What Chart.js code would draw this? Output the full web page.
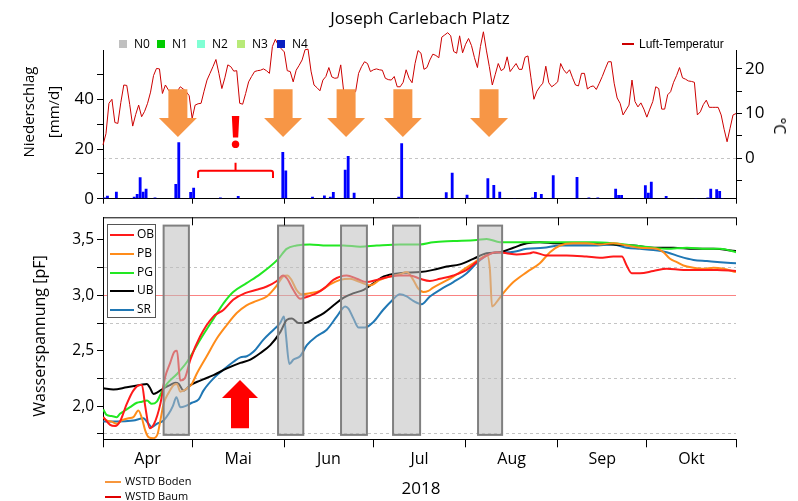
<!DOCTYPE html>
<html><head><meta charset="utf-8">
<script src="https://cdn.jsdelivr.net/npm/chart.js@4.4.0/dist/chart.umd.min.js"></script>
<style>
html,body{margin:0;padding:0;background:#fff;}
#wrap{position:relative;width:798px;height:501px;overflow:hidden;font-family:'Open Sans',sans-serif;color:#000;}
canvas{position:absolute;left:0;top:0;}
.t{position:absolute;white-space:nowrap;line-height:1;}
.c{transform:translate(-50%,-50%);}
.sq{position:absolute;width:8px;height:8px;}
.ln{position:absolute;height:2px;}
#lbox{position:absolute;left:107px;top:224px;width:47px;height:92px;border:1px solid #555;background:#fff;}
</style></head><body>
<div id="wrap">
<canvas id="c1" width="798" height="501"></canvas>
<canvas id="c2" width="798" height="501"></canvas>

<div class="t c" style="left:420px;top:17px;font-size:17px;">Joseph Carlebach Platz</div>

<div class="sq" style="left:119px;top:40px;background:#c0c0c0"></div><div class="t" style="left:134px;top:38px;font-size:12px;">N0</div>
<div class="sq" style="left:157px;top:40px;background:#00cc00"></div><div class="t" style="left:172px;top:38px;font-size:12px;">N1</div>
<div class="sq" style="left:197px;top:40px;background:#80ffd4"></div><div class="t" style="left:212px;top:38px;font-size:12px;">N2</div>
<div class="sq" style="left:237px;top:40px;background:#b8ea78"></div><div class="t" style="left:252px;top:38px;font-size:12px;">N3</div>
<div class="sq" style="left:277px;top:40px;background:#0a1ec0"></div><div class="t" style="left:292px;top:38px;font-size:12px;">N4</div>

<div class="ln" style="left:622px;top:43px;width:12px;background:#cc0000"></div>
<div class="t" style="left:639px;top:38px;font-size:12px;font-family:'Liberation Sans',Arial,sans-serif;">Luft-Temperatur</div>

<div class="t c" style="left:28px;top:112px;font-size:15px;transform:translate(-50%,-50%) rotate(-90deg);">Niederschlag</div>
<div class="t c" style="left:53px;top:112px;font-size:15px;transform:translate(-50%,-50%) rotate(-90deg);">[mm/d]</div>
<div class="t c" style="left:780px;top:126px;font-size:16px;transform:translate(-50%,-50%) rotate(90deg);">°C</div>
<div class="t c" style="left:39px;top:336px;font-size:16px;transform:translate(-50%,-50%) rotate(-90deg);">Wasserspannung [pF]</div>
<div class="t c" style="left:421px;top:487px;font-size:17px;">2018</div>

<div id="lbox">
 <div class="ln" style="left:2px;top:9px;width:24px;background:#ff1a1a"></div><div class="t" style="left:29px;top:3px;font-size:12px;">OB</div>
 <div class="ln" style="left:2px;top:28px;width:24px;background:#ff8c1a"></div><div class="t" style="left:29px;top:22px;font-size:12px;">PB</div>
 <div class="ln" style="left:2px;top:47px;width:24px;background:#22e822"></div><div class="t" style="left:29px;top:41px;font-size:12px;">PG</div>
 <div class="ln" style="left:2px;top:65px;width:24px;background:#000"></div><div class="t" style="left:29px;top:59px;font-size:12px;">UB</div>
 <div class="ln" style="left:2px;top:84px;width:24px;background:#1f77b4"></div><div class="t" style="left:29px;top:78px;font-size:12px;">SR</div>
</div>

<div class="ln" style="left:105px;top:481px;width:16px;background:#f7963c"></div><div class="t" style="left:125px;top:475px;font-size:11px;">WSTD Boden</div>
<div class="ln" style="left:105px;top:496px;width:16px;background:#e00000"></div><div class="t" style="left:125px;top:490px;font-size:11px;">WSTD Baum</div>
</div>
<script>
// ---------- DATA ----------
// x values are days since 1 April 2018
const monthStarts = [0, 30, 61, 91, 122, 153, 183, 213];
const monthNames = ['Apr', 'Mai', 'Jun', 'Jul', 'Aug', 'Sep', 'Okt'];

// daily precipitation (N4), mm/d
const rainDays = [0,1,4,10,11,12,13,14,17,23,24,25,29,30,39,45,60,61,62,70,74,76,77,81,82,84,99,100,115,117,122,129,131,133,138,144,145,147,151,159,163,166,172,173,174,182,183,184,189,199,203,204,206,207,208];
const rainMM   = [0.5,1.2,2.8,0.8,1.9,8.6,2.8,4.0,0.5,0.3,5.9,22.7,2.7,4.4,0.5,1.1,18.8,11.4,0.3,0.8,1.3,0.8,2.7,11.7,17.2,2.4,0.8,22.3,2.6,10.5,1.6,8.2,5.5,2.8,0.3,0.5,2.7,1.9,9.4,8.7,0.5,0.5,4.0,1.5,1.5,5.4,2.4,6.8,1.1,0.3,0.5,4.0,3.8,3.1,0.3];

// daily air temperature, °C (day 0 .. 213)
const airTemp = [
 3.0,5.5,12.3,13.2,8.0,7.8,12.5,16.4,16.3,12.0,
 7.2,9.8,11.9,9.3,10.5,12.3,14.8,18.5,20.1,20.0,
 14.5,16.4,15.3,14.5,14.0,15.0,16.0,15.5,14.9,14.0,
 8.9,11.9,12.2,12.3,15.0,17.5,19.0,20.5,22.1,19.0,
 15.6,18.0,20.9,20.5,19.5,19.6,12.3,12.1,14.5,17.1,
 18.3,19.4,19.6,19.7,20.0,19.6,19.0,25.0,26.6,25.3,
 24.5,23.8,19.6,19.4,17.1,19.7,20.8,22.0,24.3,24.4,
 19.5,16.4,15.8,15.1,17.5,18.3,20.3,18.2,17.9,18.0,
 20.9,14.9,14.0,14.0,14.5,14.9,19.0,20.5,21.6,21.2,
 19.4,19.8,20.0,19.8,19.7,17.9,17.6,17.5,18.3,16.0,
 16.0,17.0,19.8,17.9,16.9,21.2,24.1,23.5,19.9,20.3,
 22.0,23.3,23.0,22.5,27.1,27.6,28.1,27.4,23.9,23.5,
 27.4,23.6,25.5,26.8,25.2,22.5,20.3,25.0,28.3,24.2,
 20.5,16.4,18.8,21.2,19.6,20.1,22.7,19.4,20.3,21.2,
 19.9,19.9,22.6,22.9,18.0,13.2,15.0,16.0,16.8,20.6,
 16.9,16.0,16.5,17.1,21.2,19.8,19.0,19.8,18.0,16.4,
 16.2,19.0,19.0,15.5,16.0,16.2,15.4,16.8,18.3,20.0,
 21.6,21.6,16.8,13.5,12.3,9.7,10.8,11.9,17.5,12.7,
 11.5,12.4,11.0,9.2,11.0,12.7,16.0,15.6,11.0,11.0,
 14.2,14.9,17.0,18.5,20.3,18.0,17.7,17.3,17.2,17.0,
 9.7,10.4,12.0,13.0,11.4,11.4,11.4,11.4,9.7,6.5,
 3.7,6.7,9.7,10.0];

// water tension series [day, pF]
const OB = [[0.1,1.90],[2.4,1.83],[4.1,1.82],[5.7,1.86],[8.0,2.02],[10.2,2.14],[12.5,2.19],[13.1,2.19],[14.2,2.00],[15.7,1.80],[17.2,1.84],[19.3,2.02],[20.9,2.26],[22.6,2.39],[24.0,2.49],[24.9,2.50],[26.0,2.23],[27.5,2.25],[29.4,2.42],[32.7,2.63],[37.2,2.81],[40.6,2.87],[43.8,2.96],[47.8,3.02],[51.7,3.05],[55.1,3.08],[58.5,3.13],[60.6,3.18],[62.0,3.15],[64.0,3.05],[66.3,2.97],[67.9,2.98],[71.9,3.02],[74.7,3.07],[77.5,3.14],[82.0,3.18],[85.4,3.15],[88.7,3.12],[92.1,3.14],[96.6,3.17],[99.9,3.18],[103.3,3.18],[106.7,3.15],[110.0,3.13],[113.4,3.15],[117.9,3.18],[122.4,3.23],[125.7,3.30],[129.1,3.36],[132.4,3.39],[135.8,3.38],[139.2,3.37],[143.7,3.38],[144.8,3.39],[149.3,3.36],[156.0,3.36],[162.7,3.35],[167.2,3.34],[171.7,3.35],[174.6,3.35],[176.2,3.27],[177.9,3.20],[180.7,3.20],[185.2,3.22],[189.7,3.24],[195.3,3.23],[200.9,3.23],[206.6,3.23],[213,3.22]];
const PB = [[0.1,1.90],[1.2,1.87],[2.9,1.86],[4.6,1.84],[6.3,1.87],[8.6,1.89],[10.2,1.90],[11.9,1.96],[13.1,1.89],[14.2,1.78],[15.3,1.72],[17.0,1.71],[18.4,1.75],[19.3,1.87],[20.4,2.02],[22.1,2.12],[23.8,2.19],[24.9,2.20],[26.0,2.13],[27.1,2.14],[28.8,2.17],[29.9,2.20],[31.5,2.29],[34.9,2.45],[38.3,2.61],[41.6,2.73],[45.0,2.84],[48.3,2.91],[51.7,2.95],[55.1,2.99],[58.5,3.09],[60.6,3.17],[62.0,3.18],[63.4,3.14],[65.1,3.05],[66.8,3.01],[69.6,3.02],[73.0,3.04],[76.4,3.10],[79.8,3.14],[83.1,3.15],[86.5,3.12],[89.8,3.09],[93.2,3.14],[96.6,3.17],[99.9,3.19],[102.2,3.21],[104.4,3.14],[106.1,3.06],[107.8,3.03],[109.5,3.04],[111.1,3.07],[114.5,3.12],[117.9,3.17],[121.2,3.23],[124.6,3.29],[128.0,3.35],[129.3,3.36],[130.2,3.23],[130.9,2.90],[133.0,2.96],[134.7,3.02],[138.1,3.12],[142.6,3.21],[147.0,3.29],[150.4,3.39],[153.8,3.45],[158.2,3.47],[162.7,3.47],[167.2,3.46],[171.7,3.47],[176.2,3.45],[180.7,3.43],[186.3,3.42],[188.6,3.39],[190.8,3.33],[193.1,3.30],[195.3,3.27],[198.7,3.25],[202.1,3.24],[205.4,3.25],[208.8,3.24],[213,3.21]];
const PG = [[0.1,1.97],[1.2,1.92],[2.9,1.91],[4.6,1.90],[5.7,1.93],[7.4,1.96],[9.1,1.99],[11.4,2.03],[13.1,2.04],[14.8,2.05],[16.4,2.02],[18.1,2.04],[19.8,2.13],[21.5,2.20],[24.9,2.29],[28.3,2.40],[32.7,2.60],[37.2,2.79],[40.6,2.93],[43.8,3.03],[48.3,3.11],[52.8,3.19],[56.2,3.26],[59.0,3.33],[61.8,3.42],[65.1,3.45],[69.6,3.46],[75.3,3.45],[80.9,3.45],[86.5,3.44],[92.1,3.45],[99.9,3.46],[106.7,3.46],[111.1,3.48],[117.9,3.49],[125.7,3.50],[129.1,3.51],[133.6,3.48],[139.2,3.48],[144.8,3.48],[150.4,3.48],[158.2,3.48],[165.0,3.48],[171.7,3.47],[178.5,3.45],[185.2,3.43],[189.7,3.42],[196.5,3.43],[203.2,3.42],[207.7,3.42],[213,3.39]];
const UB = [[0.1,2.16],[3.5,2.15],[8.0,2.17],[12.5,2.19],[14.8,2.20],[15.7,2.17],[17.0,2.11],[18.7,2.13],[20.4,2.16],[22.6,2.19],[24.3,2.21],[25.5,2.20],[27.1,2.14],[29.4,2.19],[32.7,2.23],[37.2,2.28],[41.7,2.34],[46.2,2.39],[49.6,2.42],[53.0,2.48],[56.3,2.55],[59.7,2.67],[61.9,2.78],[63.6,2.79],[65.8,2.75],[68.1,2.75],[70.9,2.79],[74.3,2.84],[77.6,2.91],[81.0,2.98],[84.4,3.02],[87.7,3.05],[91.1,3.11],[94.5,3.17],[99.9,3.20],[106.7,3.21],[111.1,3.23],[115.6,3.26],[120.1,3.28],[124.6,3.33],[129.1,3.38],[133.6,3.39],[138.1,3.43],[142.6,3.47],[147.0,3.48],[152.7,3.47],[158.2,3.47],[165.0,3.47],[171.7,3.46],[178.5,3.45],[185.2,3.43],[192.0,3.43],[198.7,3.42],[205.4,3.42],[213,3.40]];
const SR = [[0.1,1.86],[4.6,1.86],[10.2,1.87],[13.6,1.89],[15.3,1.84],[16.4,1.81],[18.1,1.84],[20.4,1.87],[22.1,1.93],[23.5,2.00],[24.7,2.08],[26.0,1.99],[27.7,2.00],[29.9,2.03],[32.2,2.06],[33.8,2.14],[37.2,2.25],[40.6,2.33],[43.9,2.40],[46.2,2.44],[48.4,2.45],[50.6,2.49],[54.0,2.60],[57.4,2.69],[59.6,2.75],[60.9,2.81],[61.6,2.63],[62.7,2.38],[64.1,2.42],[66.3,2.45],[68.6,2.55],[71.9,2.63],[75.3,2.69],[78.7,2.81],[81.5,2.90],[82.6,2.88],[84.3,2.79],[86.0,2.71],[88.2,2.71],[91.0,2.76],[94.3,2.87],[97.1,2.95],[99.9,3.01],[102.2,2.99],[104.4,2.95],[107.2,2.92],[110.0,2.99],[113.4,3.05],[117.9,3.12],[122.4,3.20],[125.7,3.29],[129.1,3.36],[132.4,3.39],[136.9,3.39],[142.6,3.42],[148.2,3.43],[153.8,3.45],[158.2,3.45],[165.0,3.45],[171.7,3.46],[176.2,3.43],[180.7,3.42],[185.2,3.41],[189.7,3.39],[194.2,3.35],[198.7,3.32],[203.2,3.31],[207.7,3.30],[213,3.29]];

// marked periods (start day, end day)
const dryPeriods = [[20.4,28.9],[58.9,67.4],[80.1,88.8],[97.6,106.7],[126.2,134.3]];
// orange arrows (day) marking strong rain events
const rainArrows = [25.2, 60.6, 81.8, 100.9, 129.9];
// bracket (no-rain period) start/end day
const bracket = [32.0, 57.2];
// red up arrow day
const upArrowDay = 46.1;

// ---------- CHARTS ----------
Chart.defaults.font.family = "'Open Sans', sans-serif";
Chart.defaults.color = '#000';
const FONT_FAM = "'Open Sans', sans-serif";

const topDecor = {
  id: 'topDecor',
  afterDatasetsDraw(chart) {
    const {ctx, scales: {x, yP}} = chart;
    ctx.save();
    ctx.fillStyle = 'rgb(247,150,70)';
    const yTop = yP.getPixelForValue(44.1), yBase = yP.getPixelForValue(32.5), yTip = yP.getPixelForValue(24.8);
    rainArrows.forEach(d => {
      const cx = x.getPixelForValue(d);
      ctx.beginPath();
      ctx.moveTo(cx - 9.5, yTop); ctx.lineTo(cx + 9.5, yTop); ctx.lineTo(cx + 9.5, yBase);
      ctx.lineTo(cx + 19, yBase); ctx.lineTo(cx, yTip); ctx.lineTo(cx - 19, yBase);
      ctx.lineTo(cx - 9.5, yBase); ctx.closePath(); ctx.fill();
    });
    // bracket
    const bx1 = x.getPixelForValue(bracket[0]), bx2 = x.getPixelForValue(bracket[1]);
    const bm = (bx1 + bx2) / 2;
    const by = yP.getPixelForValue(11.3), byEnd = yP.getPixelForValue(8.3), byTop = yP.getPixelForValue(14.5);
    ctx.strokeStyle = '#ff0000'; ctx.lineWidth = 2; ctx.lineJoin = 'round';
    ctx.beginPath();
    ctx.moveTo(bx1, byEnd); ctx.lineTo(bx1, by + 2); ctx.quadraticCurveTo(bx1, by, bx1 + 2, by);
    ctx.lineTo(bx2 - 2, by); ctx.quadraticCurveTo(bx2, by, bx2, by + 2); ctx.lineTo(bx2, byEnd);
    ctx.moveTo(bm, by); ctx.lineTo(bm, byTop);
    ctx.stroke();
    // exclamation mark
    ctx.fillStyle = '#ff0000';
    ctx.font = "bold 44px " + FONT_FAM;
    ctx.textAlign = 'center'; ctx.textBaseline = 'alphabetic';
    ctx.fillText('!', bm, yP.getPixelForValue(20.4));
    ctx.restore();
  }
};

new Chart(document.getElementById('c1'), {
  type: 'bar',
  data: {
    datasets: [
      { type: 'line', label: 'Luft-Temperatur', data: airTemp.map((v, i) => ({x: i, y: v})), yAxisID: 'yT',
        borderColor: '#cc0000', borderWidth: 1, pointRadius: 0, tension: 0, order: 0, clip: false },
      { type: 'bar', label: 'N4', data: rainDays.map((d, i) => ({x: d + 0.5, y: rainMM[i]})), yAxisID: 'yP',
        backgroundColor: '#0000ff', barPercentage: 1, categoryPercentage: 0.95, order: 1 }
    ]
  },
  options: {
    responsive: false, animation: false, events: [],
    layout: { padding: { top: 50.7, left: 0, right: 0, bottom: 0 } },
    plugins: { legend: { display: false }, tooltip: { enabled: false } },
    scales: {
      x: { type: 'linear', min: 0, max: 213, offset: false,
        afterBuildTicks: s => { s.ticks = monthStarts.map(v => ({value: v})); },
        ticks: { display: false },
        grid: { offset: false, drawOnChartArea: false, drawTicks: true, tickLength: 5, tickColor: '#000' },
        border: { color: '#000', width: 1 },
        afterFit: s => { s.height = 501 - 198.7; } },
      yP: { type: 'linear', position: 'left', min: 0, max: 59.6,
        afterBuildTicks: s => { s.ticks = [0, 10, 20, 30, 40, 50].map(v => ({value: v})); },
        ticks: { callback: v => (v % 20 === 0 ? String(v) : ''), font: { size: 17 }, color: '#000', padding: 3 },
        grid: { drawOnChartArea: false, tickLength: 6, tickColor: '#000' },
        border: { color: '#000', width: 1 },
        afterFit: s => { s.width = 103; } },
      yT: { type: 'linear', position: 'right', min: -9.04, max: 24.07,
        afterBuildTicks: s => { s.ticks = [-5, 0, 5, 10, 15, 20].map(v => ({value: v})); },
        ticks: { callback: v => (v % 10 === 0 ? String(v) : ''), font: { size: 17 }, color: '#000', padding: 3 },
        grid: { drawOnChartArea: true, color: c => (c.tick && c.tick.value === 0 ? '#c4c4c4' : 'rgba(0,0,0,0)'),
                tickLength: 6, tickColor: '#000', tickBorderDash: [] },
        border: { color: '#000', width: 1, dash: [3, 3] },
        afterFit: s => { s.width = 62; } }
    }
  },
  plugins: [topDecor]
});

const monthMid = monthNames.map((m, i) => (monthStarts[i] + monthStarts[i + 1]) / 2);

const bottomDecor = {
  id: 'bottomDecor',
  afterDatasetsDraw(chart) {
    const {ctx, scales: {x, y}} = chart;
    ctx.save();
    const yt = y.getPixelForValue(3.63), yb = y.getPixelForValue(1.74);
    dryPeriods.forEach(p => {
      const x1 = x.getPixelForValue(p[0]), x2 = x.getPixelForValue(p[1]);
      ctx.fillStyle = 'rgba(190,190,190,0.55)';
      ctx.fillRect(x1, yt, x2 - x1, yb - yt);
      ctx.strokeStyle = 'rgb(128,128,128)'; ctx.lineWidth = 2;
      ctx.strokeRect(x1, yt, x2 - x1, yb - yt);
    });
    // red up arrow
    const cx = x.getPixelForValue(upArrowDay);
    const tip = y.getPixelForValue(2.235), base = y.getPixelForValue(2.073), bot = y.getPixelForValue(1.80);
    ctx.fillStyle = '#ff0000';
    ctx.beginPath();
    ctx.moveTo(cx, tip); ctx.lineTo(cx + 18, base); ctx.lineTo(cx + 9, base); ctx.lineTo(cx + 9, bot);
    ctx.lineTo(cx - 9, bot); ctx.lineTo(cx - 9, base); ctx.lineTo(cx - 18, base); ctx.closePath(); ctx.fill();
    ctx.restore();
  },
  afterDraw(chart) {
    const {ctx, chartArea: a, scales: {x}} = chart;
    ctx.save();
    ctx.strokeStyle = '#000'; ctx.lineWidth = 1;
    ctx.beginPath();
    ctx.moveTo(a.left, a.top + 0.5); ctx.lineTo(a.right, a.top + 0.5);
    monthStarts.forEach(d => {
      const px = Math.round(x.getPixelForValue(d)) + 0.5;
      ctx.moveTo(px, a.top); ctx.lineTo(px, a.top + 8);
    });
    ctx.stroke();
    ctx.restore();
  }
};

const mk = (label, arr, color) => ({ label, data: arr.map(p => ({x: p[0], y: p[1]})), borderColor: color,
  borderWidth: 2, pointRadius: 0, tension: 0.3, cubicInterpolationMode: 'monotone', fill: false });

new Chart(document.getElementById('c2'), {
  type: 'line',
  data: { datasets: [ mk('OB', OB, '#ff1a1a'), mk('PB', PB, '#ff8c1a'), mk('PG', PG, '#22e822'), mk('UB', UB, '#000000'), mk('SR', SR, '#1f77b4') ] },
  options: {
    responsive: false, animation: false, events: [],
    layout: { padding: { top: 217.3, left: 0, right: 62, bottom: 0 } },
    plugins: { legend: { display: false }, tooltip: { enabled: false } },
    scales: {
      x: { type: 'linear', min: 0, max: 213, offset: false,
        afterBuildTicks: s => { s.ticks = monthStarts.map(v => ({value: v})).concat(monthMid.map(v => ({value: v}))); },
        ticks: { autoSkip: false, maxRotation: 0, font: { size: 16 }, color: '#000', padding: 3,
          callback: (v) => { const i = monthMid.indexOf(v); return i >= 0 ? monthNames[i] : ''; } },
        grid: { offset: false, drawOnChartArea: false, tickLength: 8,
          tickColor: c => (c.tick && monthStarts.includes(c.tick.value) ? '#000' : 'rgba(0,0,0,0)') },
        border: { color: '#000', width: 1 },
        afterFit: s => { s.height = 501 - 439.3; } },
      y: { type: 'linear', min: 1.70, max: 3.705,
        afterBuildTicks: s => { s.ticks = [1.75, 2.0, 2.25, 2.5, 2.75, 3.0, 3.25, 3.5].map(v => ({value: v})); },
        ticks: { font: { size: 15.5 }, color: '#000', padding: 3,
          callback: v => (Math.abs(v * 2 - Math.round(v * 2)) < 1e-6 ? v.toFixed(1).replace('.', ',') : '') },
        grid: { drawOnChartArea: true, tickLength: 6, tickColor: '#000', tickBorderDash: [],
          color: c => { if (!c.tick) return 'rgba(0,0,0,0)'; const v = c.tick.value;
            if (Math.abs(v - 3) < 1e-6) return 'rgb(250,130,130)';
            if (Math.abs(v * 4 - Math.round(v * 4)) < 1e-6 && Math.abs(v * 2 - Math.round(v * 2)) > 1e-6) return '#c4c4c4';
            return 'rgba(0,0,0,0)'; } },
        border: { color: '#000', width: 1, dash: c => (c.tick && Math.abs(c.tick.value - 3) < 1e-6 ? [] : [3, 3]) },
        afterFit: s => { s.width = 103; } }
    }
  },
  plugins: [bottomDecor]
});
</script>
</body></html>
